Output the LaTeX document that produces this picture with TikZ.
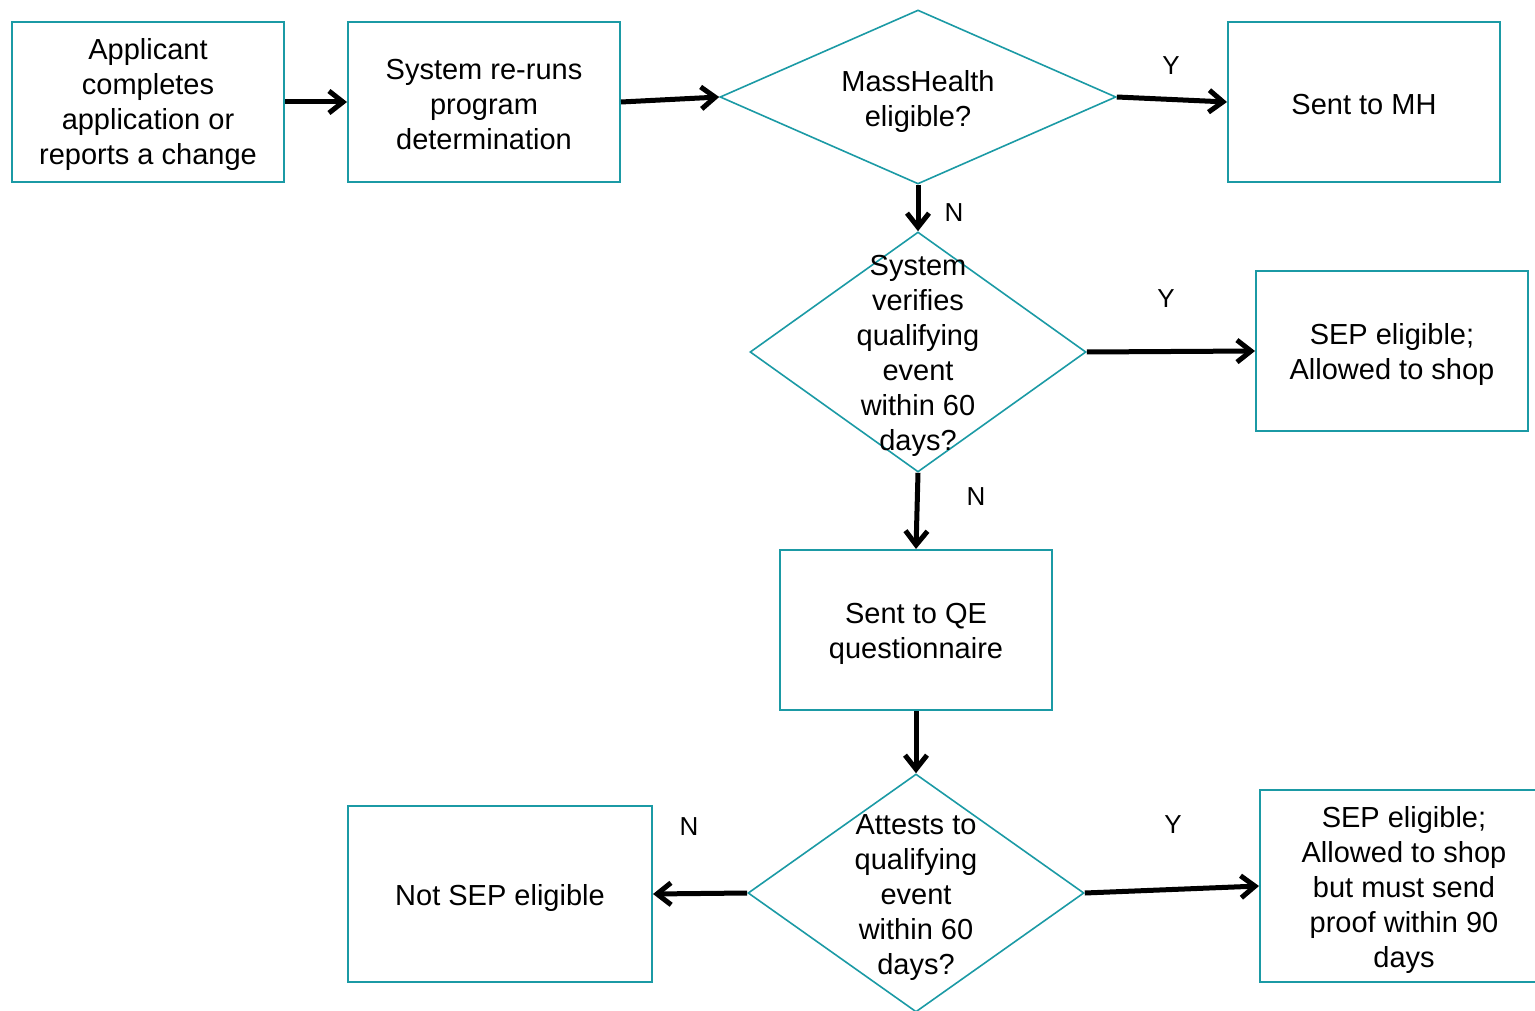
\documentclass[tikz,border=0pt]{standalone}
\usepackage{fontspec}
\setmainfont{Liberation Sans}
\usetikzlibrary{shapes.geometric,arrows.meta}
\definecolor{teal1}{HTML}{1B9AA5}
\tikzset{
  box/.style={draw=teal1, line width=2pt, rectangle, inner sep=0pt},
  dia/.style={draw=teal1, line width=1.6pt, diamond, inner sep=0pt},
  txt/.style={align=center, font=\fontsize{29}{35}\selectfont, inner sep=0pt},
  lab/.style={font=\fontsize{26}{30}\selectfont, inner sep=0pt},
  arr/.style={line width=5pt, -{Straight Barb[length=14pt,width=22pt,line width=5pt]}}
}
\begin{document}
\begin{tikzpicture}[x=1pt,y=-1pt]
\useasboundingbox (0,0) rectangle (1535,1011);
% boxes
\node[box, minimum width=272pt, minimum height=160pt] (a) at (148,102) {};
\node[txt] (ta) at (148,105) {Applicant\\completes\\application or\\reports a change};
\node[box, minimum width=272pt, minimum height=160pt] (b) at (484,102) {};
\node[txt] (tb) at (484,105) {System re-runs\\program\\determination};
\node[box, minimum width=272pt, minimum height=160pt] (mh) at (1364,102) {};
\node[txt] (tmh) at (1364,105) {Sent to MH};
\node[box, minimum width=272pt, minimum height=160pt] (s1) at (1392,351) {};
\node[txt] (ts1) at (1392,355) {SEP eligible;\\Allowed to shop};
\node[box, minimum width=272pt, minimum height=160pt] (qe) at (916,630) {};
\node[txt] (tqe) at (916,634) {Sent to QE\\questionnaire};
\node[box, minimum width=304pt, minimum height=176pt] (ns) at (500,894) {};
\node[txt] (tns) at (500,898) {Not SEP eligible};
\node[box, minimum width=288pt, minimum height=192pt] (s2) at (1404,886) {};
\node[txt] (ts2) at (1404,890) {SEP eligible;\\Allowed to shop\\but must send\\proof within 90\\days};
% diamonds
\node[dia, minimum width=396pt, minimum height=174pt] (d1) at (918,97) {};
\node[txt] (t1) at (918,102) {MassHealth\\eligible?};
\node[dia, minimum width=336pt, minimum height=240pt] (d2) at (918,352) {};
\node[txt] (t2) at (918,356) {System\\verifies\\qualifying\\event\\within 60\\days?};
\node[dia, minimum width=336pt, minimum height=238pt] (d3) at (916,893) {};
\node[txt] (t3) at (916,898) {Attests to\\qualifying\\event\\within 60\\days?};
% connectors
\draw[arr] (a.east) -- (b.west);
\draw[arr] (b.east) -- (d1.west);
\draw[arr] (d1.east) -- (mh.west);
\draw[arr] (d1.south) -- (d2.north);
\draw[arr] (d2.east) -- (s1.west);
\draw[arr] (d2.south) -- (qe.north);
\draw[arr] (qe.south) -- (d3.north);
\draw[arr] (d3.west) -- (ns.east);
\draw[arr] (d3.east) -- (s2.west);
% labels
\node[lab] (y1) at (1171,66) {Y};
\node[lab] (n1) at (954,213) {N};
\node[lab] (y2) at (1166,299) {Y};
\node[lab] (n2) at (976,497) {N};
\node[lab] (n3) at (689,827) {N};
\node[lab] (y3) at (1173,825) {Y};
\end{tikzpicture}
\end{document}
